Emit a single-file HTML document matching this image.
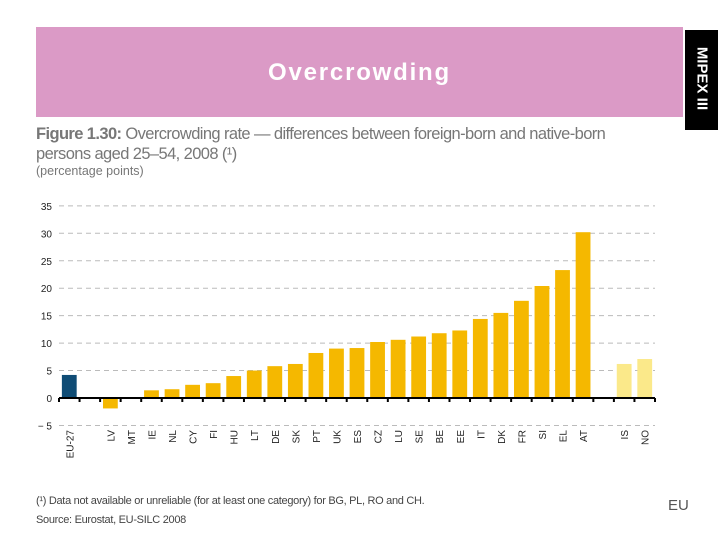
<!DOCTYPE html>
<html><head><meta charset="utf-8"><style>
body{margin:0;width:720px;height:540px;background:#fff;position:relative;overflow:hidden;font-family:"Liberation Sans",sans-serif}
.a{position:absolute}
</style></head><body>
<div class="a" style="left:36px;top:27px;width:647px;height:90px;background:#db9ac6"></div>
<div class="a" style="left:36px;top:59px;width:647px;text-align:center;color:#fff;font-weight:bold;font-size:24px;letter-spacing:1.8px">Overcrowding</div>
<div class="a" style="left:685px;top:30px;width:33px;height:100px;background:#000"></div>
<div class="a" style="left:652px;top:70px;width:100px;text-align:center;color:#fff;font-weight:bold;font-size:15px;transform:rotate(90deg)">MIPEX III</div>
<div class="a" style="left:36px;top:124px;color:#777;font-size:16.5px;line-height:20px;letter-spacing:-0.6px"><b>Figure 1.30:</b> Overcrowding rate — differences between foreign-born and native-born<br>persons aged 25–54, 2008 (¹)</div>
<div class="a" style="left:36px;top:164px;color:#777;font-size:12.5px">(percentage points)</div>
<svg class="a" style="left:0;top:0" width="720" height="540" id="chart"></svg>
<div class="a" style="left:36px;top:495px;color:#444;font-size:11px;letter-spacing:-0.3px">(¹) Data not available or unreliable (for at least one category) for BG, PL, RO and CH.</div>
<div class="a" style="left:36px;top:514px;color:#444;font-size:11px;letter-spacing:-0.3px">Source: Eurostat, EU-SILC 2008</div>
<div class="a" style="left:668px;top:497px;color:#555;font-size:15px">EU</div>
<script>
const categories=["EU-27","","LV","MT","IE","NL","CY","FI","HU","LT","DE","SK","PT","UK","ES","CZ","LU","SE","BE","EE","IT","DK","FR","SI","EL","AT","","IS","NO"];
const values=[4.2,null,-1.9,0,1.4,1.6,2.4,2.7,4.0,5.0,5.8,6.2,8.2,9.0,9.1,10.2,10.6,11.2,11.8,12.3,14.4,15.5,17.7,20.4,23.3,30.2,null,6.2,7.1];
const groups=["eu","","m","m","m","m","m","m","m","m","m","m","m","m","m","m","m","m","m","m","m","m","m","m","m","m","","o","o"];
const yTicks=[-5,0,5,10,15,20,25,30,35];
const yTickLabels=["− 5","0","5","10","15","20","25","30","35"];
const svg=document.getElementById('chart');const NS="http://www.w3.org/2000/svg";
const x0=59,x1=655,y0=398,ppu=5.49;
const bw=(x1-x0)/categories.length;
const y=v=>y0-v*ppu;const xc=i=>x0+bw*(i+0.5);
function mk(t,a){const e=document.createElementNS(NS,t);for(const k in a)e.setAttribute(k,a[k]);svg.appendChild(e);return e;}
yTicks.forEach((t,i)=>{
 if(t!==0){const g=mk('line',{x1:x0,x2:x1,y1:y(t),y2:y(t),stroke:'#bbb','stroke-width':1,'stroke-dasharray':'5,4'});
 
 }
 const l=mk('text',{x:52,y:y(t)+4,'text-anchor':'end','font-size':10,fill:'#222','font-family':'Liberation Sans, sans-serif'});l.textContent=yTickLabels[i];
 
 
});
const col={eu:'#0f4c75',m:'#f5b800',o:'#fbe98a'};
values.forEach((v,i)=>{
 if(v===null)return;
 const r=mk('rect',{x:xc(i)-bw*0.36,width:bw*0.72,y:Math.min(y(v),y0),height:Math.max(Math.abs(y(v)-y0),0.01),fill:col[groups[i]]});
 
 
});
const ax=mk('line',{x1:x0,x2:x1,y1:y0,y2:y0,stroke:'#000','stroke-width':2});


for(let i=0;i<=categories.length;i++){const t=mk('line',{x1:x0+bw*i,x2:x0+bw*i,y1:y0,y2:y0+4,stroke:'#000','stroke-width':2});
 
 }
categories.forEach((c,i)=>{
 if(!c)return;
 const tx=xc(i)+4,ty=430;
 const l=mk('text',{x:tx,y:ty,transform:`rotate(-90 ${tx} ${ty})`,'text-anchor':'end','font-size':10,fill:'#222','font-family':'Liberation Sans, sans-serif'});l.textContent=c;
 
 
});
</script>
</body></html>
